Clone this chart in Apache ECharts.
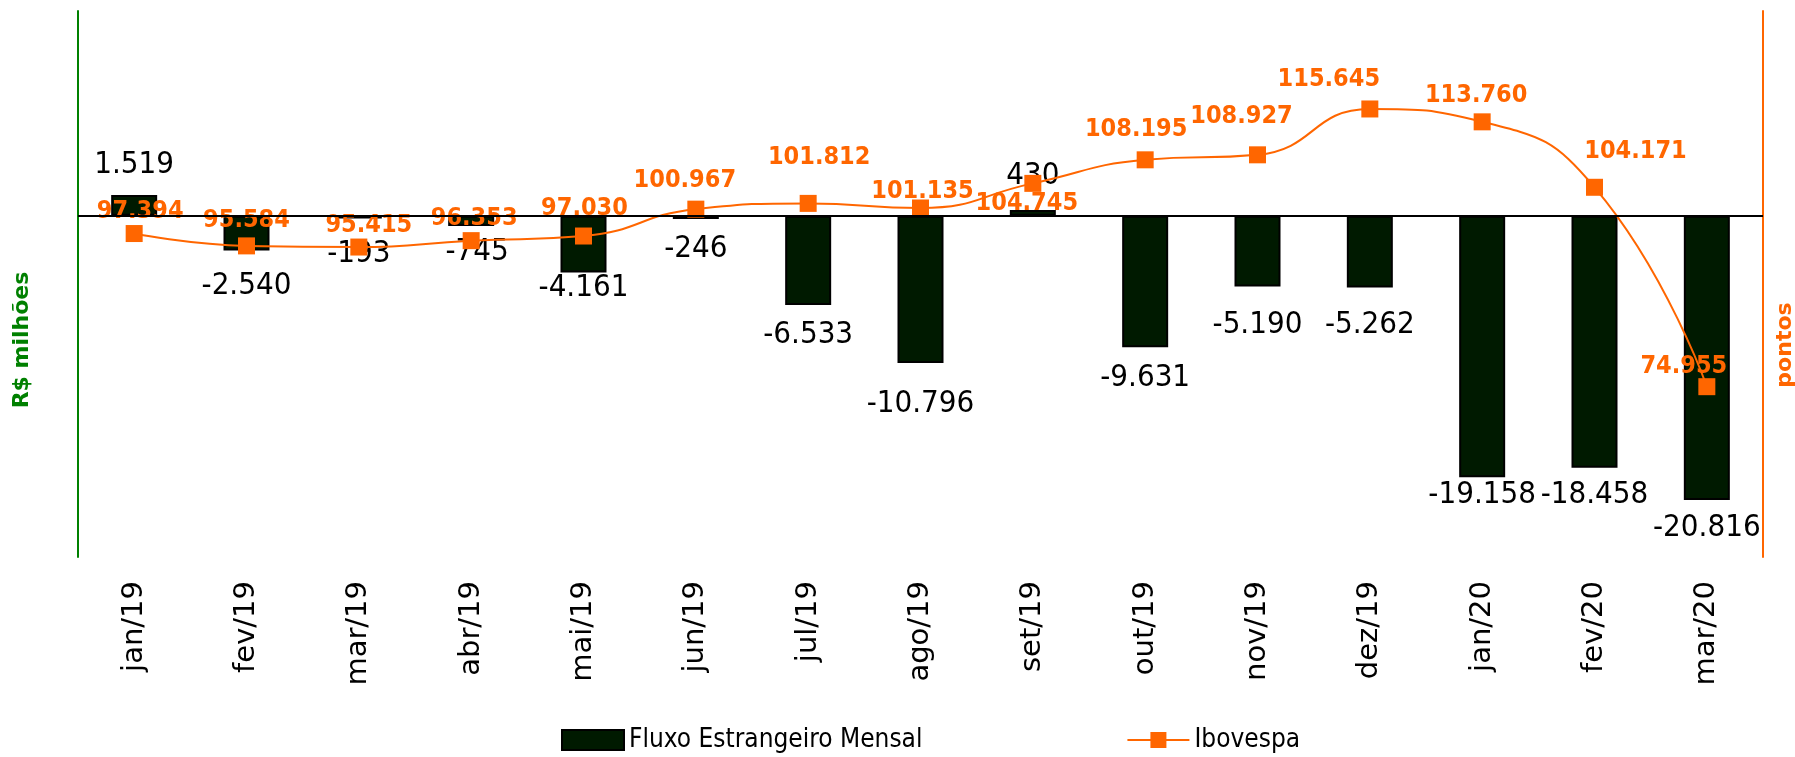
<!DOCTYPE html>
<html>
<head>
<meta charset="utf-8">
<script src="https://cdn.jsdelivr.net/npm/echarts@6/dist/echarts.min.js"></script>
<style>
  html, body { margin: 0; padding: 0; background: #fff; }
  #fluxoChart { width: 1795px; height: 757px; }
</style>
</head>
<body>
<div id="fluxoChart"></div>
<script>
// ---- dados ----
var meses = ['jan/19', 'fev/19', 'mar/19', 'abr/19', 'mai/19', 'jun/19', 'jul/19', 'ago/19',
    'set/19', 'out/19', 'nov/19', 'dez/19', 'jan/20', 'fev/20', 'mar/20'];
var fluxo = [1519, -2540, -193, -745, -4161, -246, -6533, -10796, 430, -9631, -5190, -5262,
    -19158, -18458, -20816];
var ibovespa = [97394, 95584, 95415, 96353, 97030, 100967, 101812, 101135, 104745, 108195,
    108927, 115645, 113760, 104171, 74955];

// posicao manual dos rotulos (como no excel)
var gapRotuloBarra = [30, 36, 36, 26, 15, 30, 30, 41, 34, 31, 38, 37, 18, 27, 28];
var dxRotuloBarra = [0, 0, 0, 6, 0, 0, 0, 0, 0, 0, 0, 0, 0, 0, 0];
var deslocIbov = [[6, -22], [0, -25], [10, -22], [3, -22], [1, -28], [-11, -29], [11, -46],
    [2, -17], [-6, 20], [-9, -30], [-16, -38], [-41, -29], [-6, -26], [41, -36], [-23, -20]];

(function () {
    var dom = document.getElementById('fluxoChart');
    var chart = echarts.init(dom);
    var fonteEstreita = '"DejaVu Sans Condensed", "Liberation Sans Narrow", sans-serif';

    function milhar(v) {
        var s = String(Math.abs(v)).replace(/\B(?=(\d{3})+(?!\d))/g, '.');
        return (v < 0 ? '-' : '') + s;
    }

    var barData = [], linhaData = [];
    for (var i = 0; i < fluxo.length; i++) {
        var pos = fluxo[i] >= 0;
        barData.push({
            value: fluxo[i],
            label: {
                position: pos ? 'top' : 'bottom',
                distance: 0,
                offset: [dxRotuloBarra[i], (pos ? -1 : 1) * (gapRotuloBarra[i] - 17)]
            }
        });
        linhaData.push({ value: ibovespa[i], label: { offset: deslocIbov[i] } });
    }

    var option = {
        animation: false,
        backgroundColor: '#fff',
        grid: { left: 78, right: 32, top: 11, bottom: 200 },
        legend: {
            left: 556,
            top: 722,
            itemGap: 204,
            itemWidth: 62,
            itemHeight: 20,
            textStyle: { fontFamily: fonteEstreita, fontSize: 26, color: '#000' },
            data: [{ name: 'Fluxo Estrangeiro Mensal', icon: 'rect' }, { name: 'Ibovespa' }]
        },
        xAxis: {
            type: 'category',
            data: meses,
            axisLine: { show: false },
            axisTick: { show: false },
            axisLabel: {
                rotate: 90,
                margin: 24,
                interval: 0,
                color: '#000',
                fontFamily: '"DejaVu Sans", sans-serif',
                fontSize: 29
            }
        },
        yAxis: [{
            type: 'value',
            min: -25000,
            max: 15000,
            interval: 5000,
            axisLine: { show: true, lineStyle: { color: '#008000', width: 2 } },
            axisTick: { show: false },
            axisLabel: { show: false },
            splitLine: { show: false }
        }, {
            type: 'value',
            min: 50000,
            max: 130000,
            interval: 10000,
            position: 'right',
            axisLine: { show: true, lineStyle: { color: '#ff6600', width: 2 } },
            axisTick: { show: false },
            axisLabel: { show: false },
            splitLine: { show: false }
        }],
        graphic: [{
            type: 'text',
            x: 22, y: 340,
            rotation: Math.PI / 2,
            style: {
                text: 'R$ milhões', fill: '#008000',
                fontFamily: '"DejaVu Sans", sans-serif', fontSize: 22, fontWeight: 'bold',
                align: 'center', verticalAlign: 'middle'
            }
        }, {
            type: 'text',
            x: 1785, y: 345,
            rotation: Math.PI / 2,
            style: {
                text: 'pontos', fill: '#ff6600',
                fontFamily: '"DejaVu Sans", sans-serif', fontSize: 22, fontWeight: 'bold',
                align: 'center', verticalAlign: 'middle'
            }
        }],
        series: [{
            name: 'Fluxo Estrangeiro Mensal',
            type: 'bar',
            yAxisIndex: 0,
            barWidth: 46,
            itemStyle: { color: '#001a00', borderColor: '#000', borderWidth: 2 },
            label: {
                show: true,
                color: '#000',
                fontFamily: fonteEstreita,
                fontSize: 31,
                lineHeight: 34,
                formatter: function (p) { return milhar(p.value); }
            },
            markLine: {
                silent: true,
                symbol: ['none', 'none'],
                label: { show: false },
                lineStyle: { color: '#000', width: 2, type: 'solid' },
                data: [{ yAxis: 0 }]
            },
            data: barData
        }, {
            name: 'Ibovespa',
            type: 'line',
            yAxisIndex: 1,
            smooth: 0.5,
            symbol: 'rect',
            symbolSize: 17,
            lineStyle: { color: '#ff6600', width: 2 },
            itemStyle: { color: '#ff6600' },
            label: {
                show: true,
                position: 'inside',
                color: '#ff6600',
                fontFamily: fonteEstreita,
                fontWeight: 'bold',
                fontSize: 25,
                formatter: function (p) { return milhar(p.value); }
            },
            z: 3,
            data: linhaData
        }]
    };

    chart.setOption(option);
})();
</script>
</body>
</html>
